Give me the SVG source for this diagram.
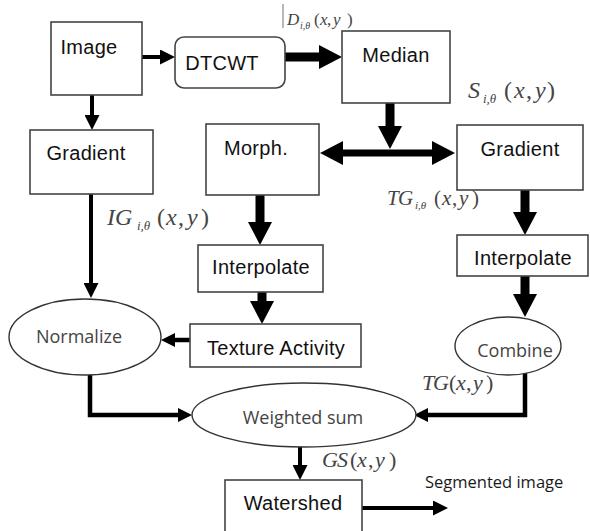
<svg xmlns="http://www.w3.org/2000/svg" width="590" height="531" viewBox="0 0 590 531">
  <defs>
    <style>
      .box { fill: #fff; stroke: #444; stroke-width: 1.6; }
      .oval { fill: #fff; stroke: #333; stroke-width: 1.4; }
      .lbl { font-family: "Liberation Sans", Arial, sans-serif; font-size: 20px; fill: #111; text-anchor: middle; letter-spacing: 0.3px; }
      .olbl { font-family: "Open Sans", "Liberation Sans", sans-serif; font-size: 18px; fill: #444; text-anchor: middle; }
      .math { font-family: "Liberation Serif", "Times New Roman", serif; font-style: italic; fill: #444; }
      .up { font-style: normal; }
      .wire { fill: none; stroke: #000; }
      .w-thin { stroke-width: 4; marker-end: url(#ah-thin); }
      .w-mid { stroke-width: 4.5; marker-end: url(#ah-mid); }
      .w-thick { stroke-width: 9; marker-end: url(#ah-thick); }
    </style>
    <marker id="ah-thin" markerUnits="userSpaceOnUse" markerWidth="15" markerHeight="15" refX="0" refY="7.5" orient="auto">
      <path d="M0,0 L15,7.5 L0,15 Z" fill="#000"/>
    </marker>
    <marker id="ah-mid" markerUnits="userSpaceOnUse" markerWidth="14" markerHeight="14" refX="0" refY="7" orient="auto">
      <path d="M0,0 L14,7 L0,14 Z" fill="#000"/>
    </marker>
    <marker id="ah-thick" markerUnits="userSpaceOnUse" markerWidth="23" markerHeight="24" refX="0" refY="12" orient="auto-start-reverse">
      <path d="M0,0 L23,12 L0,24 Z" fill="#000"/>
    </marker>
  </defs>

  <!-- connectors -->
  <g id="connectors">
    <path class="wire w-thin" d="M142,57 H160"/>
    <path class="wire w-thick" d="M285,57 H319"/>
    <path class="wire w-thin" d="M92,95 V115"/>
    <path class="wire w-thick" d="M390,103 V126"/>
    <path class="wire" stroke-width="7" d="M343,153 H432" marker-start="url(#ah-thick)" marker-end="url(#ah-thick)"/>
    <path class="wire w-thin" d="M91,194 V283"/>
    <path class="wire w-thick" d="M260,195 V222"/>
    <path class="wire w-thick" d="M262,292 V301"/>
    <path class="wire w-thick" d="M525,190 V212"/>
    <path class="wire w-thick" d="M525,276 V294"/>
    <path class="wire w-mid" d="M190,340 H175"/>
    <path class="wire w-mid" d="M90,375 V415 H178"/>
    <path class="wire w-mid" d="M525,373 V415 H428"/>
    <path class="wire w-thin" d="M300,447 V465"/>
    <path class="wire w-thin" d="M357,508 H433"/>
  </g>

  <!-- nodes -->
  <g id="image">
    <rect class="box" x="51" y="22" width="91" height="73"/>
    <text class="lbl" x="89" y="54">Image</text>
  </g>
  <g id="dtcwt">
    <rect class="box" x="175" y="37" width="110" height="51" rx="9"/>
    <text class="lbl" x="222" y="70">DTCWT</text>
  </g>
  <g id="median">
    <rect class="box" x="342" y="31" width="108" height="72"/>
    <text class="lbl" x="396" y="62">Median</text>
  </g>
  <g id="gradient-image">
    <rect class="box" x="30" y="130" width="123" height="64"/>
    <text class="lbl" x="86" y="160">Gradient</text>
  </g>
  <g id="morph">
    <rect class="box" x="206" y="124" width="113" height="71"/>
    <text class="lbl" x="256" y="155">Morph.</text>
  </g>
  <g id="gradient-texture">
    <rect class="box" x="457" y="125" width="126" height="65"/>
    <text class="lbl" x="520" y="156">Gradient</text>
  </g>
  <g id="interpolate-morph">
    <rect class="box" x="198" y="245" width="125" height="47"/>
    <text class="lbl" x="261" y="274">Interpolate</text>
  </g>
  <g id="interpolate-gradient">
    <rect class="box" x="457" y="235" width="131" height="41"/>
    <text class="lbl" x="523" y="265">Interpolate</text>
  </g>
  <g id="texture-activity">
    <rect class="box" x="190" y="324" width="171" height="43"/>
    <text class="lbl" x="276" y="355">Texture Activity</text>
  </g>
  <g id="normalize">
    <ellipse class="oval" cx="85" cy="337" rx="76" ry="38"/>
    <text class="olbl" x="79" y="343">Normalize</text>
  </g>
  <g id="combine">
    <ellipse class="oval" cx="508" cy="346" rx="53" ry="29"/>
    <text class="olbl" x="515" y="357">Combine</text>
  </g>
  <g id="weighted-sum">
    <ellipse class="oval" cx="304" cy="415" rx="112" ry="32"/>
    <text class="olbl" x="303" y="424">Weighted sum</text>
  </g>
  <g id="watershed">
    <rect class="box" x="225" y="480" width="137" height="60"/>
    <text class="lbl" x="293" y="510">Watershed</text>
  </g>
  <g id="segmented-image">
    <text x="425" y="488" font-family="'Open Sans', 'Liberation Sans', sans-serif" font-size="16.5" fill="#1a1a1a">Segmented image</text>
  </g>

  <!-- signal labels -->
  <g id="labels">
    <line x1="283" y1="4" x2="283" y2="28" stroke="#888" stroke-width="1.2"/>
    <text class="math" font-size="17" fill="#777" y="25">
      <tspan x="287">D</tspan><tspan x="300" y="29" font-size="10">i,θ</tspan><tspan class="up" x="314" y="25">(</tspan><tspan x="320">x</tspan><tspan class="up" x="327">,</tspan><tspan x="333">y</tspan><tspan class="up" x="347">)</tspan>
    </text>
    <text class="math" font-size="24" y="98">
      <tspan x="468">S</tspan><tspan x="483" y="103" font-size="13">i,θ</tspan><tspan class="up" x="504" y="98">(</tspan><tspan x="514">x</tspan><tspan class="up" x="526">,</tspan><tspan x="535">y</tspan><tspan class="up" x="547">)</tspan>
    </text>
    <text class="math" font-size="24" y="225">
      <tspan x="107">I</tspan><tspan x="115">G</tspan><tspan x="137" y="230" font-size="13">i,θ</tspan><tspan class="up" x="157" y="225">(</tspan><tspan x="166">x</tspan><tspan class="up" x="178">,</tspan><tspan x="187">y</tspan><tspan class="up" x="201">)</tspan>
    </text>
    <text class="math" font-size="21" y="205">
      <tspan x="387">T</tspan><tspan x="398">G</tspan><tspan x="415" y="209" font-size="11">i,θ</tspan><tspan class="up" x="434" y="205">(</tspan><tspan x="442">x</tspan><tspan class="up" x="452">,</tspan><tspan x="459">y</tspan><tspan class="up" x="472">)</tspan>
    </text>
    <text class="math" font-size="22" y="390">
      <tspan x="422">T</tspan><tspan x="433">G</tspan><tspan class="up" x="449">(</tspan><tspan x="456">x</tspan><tspan class="up" x="466">,</tspan><tspan x="473">y</tspan><tspan class="up" x="486">)</tspan>
    </text>
    <text class="math" font-size="22" y="467">
      <tspan x="322">G</tspan><tspan x="337">S</tspan><tspan class="up" x="350">(</tspan><tspan x="357">x</tspan><tspan class="up" x="368">,</tspan><tspan x="375">y</tspan><tspan class="up" x="389">)</tspan>
    </text>
  </g>
</svg>
